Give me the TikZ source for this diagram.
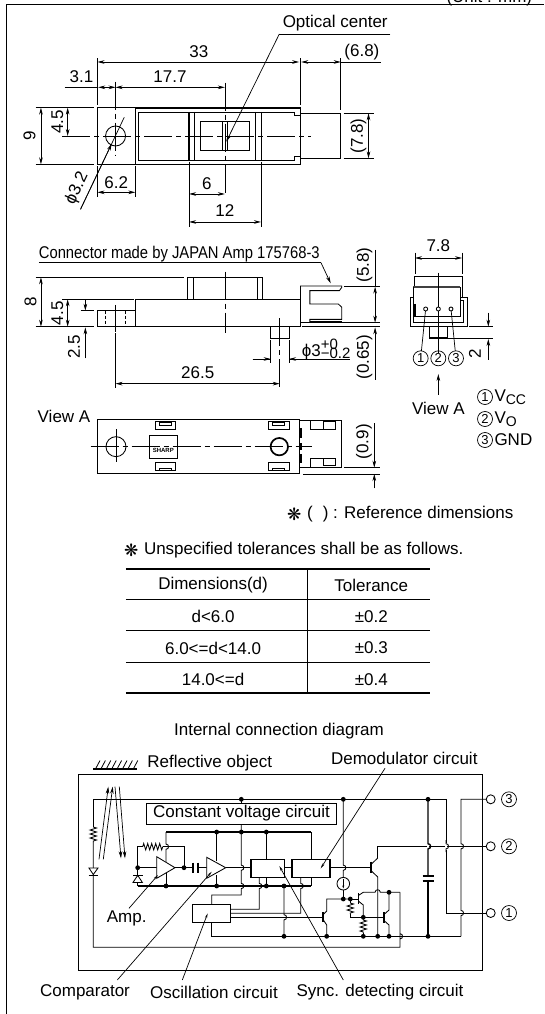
\documentclass[tikz,border=0pt]{standalone}
\usepackage{fontspec}
\setmainfont{Liberation Sans}
\newfontfamily\djvf{DejaVu Sans}
\usetikzlibrary{arrows.meta,decorations.pathmorphing}
\newcommand\fsm{\fontsize{17}{19}\selectfont}
\newcommand\fsl{\fontsize{15}{16}\selectfont}
\newcommand\fss{\fontsize{13}{14}\selectfont}
\newcommand\astx{{\djvf\fontsize{17}{17}\selectfont ❋}}
\newcommand\hv[2]{-- ({#1},{#2-2.6}) .. controls ({#1+3.4},{#2-2.6}) and ({#1+3.4},{#2+2.6}) .. ({#1},{#2+2.6})}
\newcommand\hh[2]{-- ({#1-2.6},{#2}) .. controls ({#1-2.6},{#2-3.4}) and ({#1+2.6},{#2-3.4}) .. ({#1+2.6},{#2})}
\newcommand\dt[2]{\fill (#1,#2) circle[radius=2.4pt];}
\tikzset{
  every node/.style={font=\fsm,inner sep=0pt,outer sep=0pt,text=black},
  ln/.style={line width=.85pt,black},
  thk/.style={line width=1.5pt,black},
  cl/.style={line width=.7pt,dash pattern=on 28pt off 4pt on 5pt off 4pt},
  dim/.style={line width=.7pt,{Stealth[length=7pt,width=3.6pt]}-{Stealth[length=7pt,width=3.6pt]}},
  arr/.style={line width=.7pt,-{Stealth[length=7pt,width=3.6pt]}},
  thin1/.style={line width=.7pt},
  lead/.style={line width=.7pt,-{Stealth[length=5pt,width=2.2pt]}},
  rst/.style={line width=.85pt,decorate,decoration={zigzag,segment length=4pt,amplitude=3.2pt}},
  cnum/.style={circle,draw,line width=.7pt,minimum size=15pt,font=\fss},
  pin/.style={circle,draw,line width=.85pt,fill=white,minimum size=9pt},
  tr/.style={line width=.85pt},
  trb/.style={line width=1.6pt},
}
\begin{document}
\begin{tikzpicture}[x=1pt,y=-1pt,line join=miter]
\useasboundingbox (0,0) rectangle (544,1014);
\fill[white] (0,0) rectangle (544,1014);
% frame
\draw[line width=1pt] (6.5,1014) -- (6.5,4.6) -- (544,4.6);
\node[anchor=base west] (unit) at (446.5,2.6) {(Unit : mm)};

% ---------- top view (zoom units)
\begin{scope}[x=.347pt,y=-.3333pt]
\draw[ln] (281,323) rectangle (866,493);
\draw[ln] (390,323) -- (390,493);
\draw[thk] (390,324) -- (866,324);
\draw[ln] (848,347) -- (848,336) -- (400,336) -- (400,482) -- (848,482) -- (848,470) -- (866,470);
\draw[ln] (848,347) -- (866,347);
\draw[ln] (866,340) -- (982,340) -- (982,475) -- (866,475);
\draw[thk] (545,336) -- (545,482) (560,336) -- (560,482) (737,336) -- (737,482) (753,336) -- (753,482);
\draw[ln] (577,364) rectangle (720,452);
\draw[ln] (642,364) -- (642,452) (655,364) -- (655,452);
\draw[ln] (333,408) circle[radius=10pt];
\draw[cl] (180,408) -- (895,408);
\draw[cl] (333,245) -- (333,468);
\draw[cl] (648,248) -- (648,590);
% extension lines
\draw[thin1] (281,175) -- (281,316) (281,498) -- (281,592) (390,498) -- (390,592)
  (866,175) -- (866,316) (982,175) -- (982,330)
  (103,323) -- (272,323) (103,493) -- (272,493)
  (990,340) -- (1078,340) (990,475) -- (1078,475)
  (545,485) -- (545,680) (752,485) -- (752,680)
  (982,186) -- (1098,186) (186,262) -- (281,262);
\draw[dim] (281,186) -- (862,186);
\draw[dim] (868,186) -- (982,186);
\draw[dim] (283,262) -- (333,262);
\draw[dim] (333,262) -- (648,262);
\draw[dim] (118,323) -- (118,493);
\draw[dim] (195,323) -- (195,408);
\draw[dim] (281,577) -- (390,577);
\draw[dim] (545,582) -- (648,582);
\draw[dim] (545,666) -- (752,666);
\draw[dim] (1062,340) -- (1062,475);
\draw[thin1] (232,628) -- (358,352);
\draw[arr] (232,628) -- (322,431);
\draw[thin1] (1125,102) -- (805,102);
\draw[arr] (805,102) -- (652,425);
\node (oc) at (966,70) {Optical center};
\node (t33) at (573,155) {33};
\node (t68) at (1043,155) {(6.8)};
\node (t31) at (235,230) {3.1};
\node (t177) at (490,230) {17.7};
\node[rotate=90] (t9) at (85,408) {9};
\node[rotate=90] (t45) at (165,365) {4.5};
\node[rotate=90] (t78) at (1033,408) {(7.8)};
\node (t62) at (335,547) {6.2};
\node (t6) at (596,550) {6};
\node (t12) at (648,633) {12};
\node[rotate=65] (t32) at (222,565) {ϕ3.2};
\end{scope}

% ---------- side view (zoom units)
\begin{scope}[yshift=-230pt,x=.347pt,y=-.3333pt]
\draw[ln] (390,290) -- (390,208) -- (866,208) -- (866,290);
\draw[thk] (281,290) -- (866,290);
\draw[ln] (541,208) -- (541,142) -- (755,142) -- (755,208);
\draw[ln] (557,142) -- (557,208) (741,142) -- (741,208);
\draw[ln] (281,290) -- (281,242) -- (390,242);
\draw[ln,densely dashed] (305,242) -- (305,290) (362,242) -- (362,290);
\draw[cl] (333,225) -- (333,305);
\draw[cl] (648,125) -- (648,308);
% connector
\draw[ln] (866,208) -- (866,168) -- (985,168) -- (985,172) -- (978,182) -- (893,182) -- (893,222) -- (975,222) -- (985,232) -- (985,268) -- (893,268) -- (893,278);
\draw[ln] (893,275) -- (985,275) -- (985,278) -- (866,278);
% bolt
\draw[ln] (780,290) -- (780,326) (833,290) -- (833,326);
\draw[thk] (780,325) -- (833,325);
\draw[cl] (806,265) -- (806,470);
% extension
\draw[thin1] (992,170) -- (1095,170) (870,278) -- (1095,278) (870,290) -- (1095,290)
  (103,142) -- (530,142) (103,290) -- (272,290) (180,208) -- (385,208) (232,242) -- (272,242)
  (780,330) -- (780,400) (833,330) -- (833,400) (333,310) -- (333,475);
\draw[thin1] (728,387) -- (780,387) (833,387) -- (1010,387);
\draw[arr] (728,387) -- (780,387);
\draw[arr] (885,387) -- (833,387);
\draw[dim] (118,142) -- (118,290);
\draw[dim] (195,208) -- (195,290);
\draw[arr] (246,208) -- (246,242);
\draw[arr] (246,385) -- (246,292);
\draw[dim] (333,461) -- (806,461);
\draw[dim] (1081,170) -- (1081,278);
\draw[arr] (1081,450) -- (1081,292);
\draw[thin1] (1081,60) -- (1081,170);
\draw[thin1] (112,98) -- (925,98);
\draw[arr] (925,98) -- (953,160);
\node[anchor=west] (conn) at (112,72) {\scalebox{.87}[1]{Connector made by JAPAN Amp 175768-3}};
\node[rotate=90] (s58) at (1050,105) {(5.8)};
\node[rotate=90] (s065) at (1050,382) {(0.65)};
\node[rotate=90] (s8) at (88,215) {8};
\node[rotate=90] (s45) at (165,250) {4.5};
\node[rotate=90] (s25) at (213,350) {2.5};
\node (s265) at (570,428) {26.5};
\node[anchor=west] (sphi) at (870,358) {ϕ3\rlap{\raisebox{7pt}{\fsl +0}}\raisebox{-2pt}{\fsl −0.2}};
\end{scope}

% ---------- right view (true zoom units)
\begin{scope}[xshift=385pt,yshift=-230pt,x=.3333pt,y=-.3333pt]
\draw[ln] (88,170) -- (88,138) -- (232,138) -- (232,202);
\draw[line width=2pt,black!75] (84,172) -- (226,172);
\draw[ln] (84,172) -- (84,202) -- (76,202) -- (76,290) -- (246,290) -- (246,202) -- (226,202) -- (226,172);
\draw[thk] (90,222) -- (90,260);
\draw[ln] (84,202) -- (84,278) -- (236,278) -- (236,210) -- (226,210);
\draw[ln] (90,260) -- (226,260) -- (226,205);
\draw[ln] (132,290) -- (132,323) (188,290) -- (188,323);
\draw[thk] (132,324) -- (188,324);
\draw[thin1] (90,68) -- (90,132) (231,68) -- (231,132);
\draw[dim] (90,84) -- (231,84);
\node (r78) at (160,47) {7.8};
\draw[thin1] (160,128) -- (160,368);
\node[pin,minimum size=4pt,draw,fill=white] (p1) at (122,237) {};
\node[pin,minimum size=4pt,draw,fill=white] (p2) at (160,237) {};
\node[pin,minimum size=4pt,draw,fill=white] (p3) at (198,237) {};
\node[cnum] (c1) at (107,385) {1};
\node[cnum] (c2) at (160,385) {2};
\node[cnum] (c3) at (213,385) {3};
\draw[thin1] (p1) -- (c1) (p3) -- (c3);
\coordinate (va) at (160,495);
\draw[arr] (va) -- (160,432);
\node (viewa) at (160,535) {View A};
\draw[thin1] (252,290) -- (325,290) (190,325) -- (325,325);
\draw[arr] (310,248) -- (310,290);
\draw[arr] (310,390) -- (310,327);
\node[rotate=90] (r2) at (270,372) {2};
\end{scope}
\node[cnum] (l1) at (485,397) {1};
\node[anchor=west] (lv1) at (494.5,397) {V\raisebox{-3pt}{\fontsize{14}{14}\selectfont CC}};
\node[cnum] (l2) at (485,419) {2};
\node[anchor=west] (lv2) at (494.5,419) {V\raisebox{-3pt}{\fontsize{14}{14}\selectfont O}};
\node[cnum] (l3) at (485,440) {3};
\node[anchor=west] (lv3) at (494.5,440) {GND};

% ---------- view A (true zoom units)
\begin{scope}[xshift=20pt,yshift=-405pt,x=.3333pt,y=-.3333pt]
\draw[line width=1pt] (234,42) rectangle (840,207);
\draw[ln] (840,45) -- (965,45) -- (965,188) -- (840,188);
\draw[ln] (872,45) -- (872,73) -- (947,73) -- (947,50) -- (910,50);
\draw[ln] (910,45) -- (910,73);
\draw[ln] (872,188) -- (872,160) -- (947,160) -- (947,182) -- (910,182);
\draw[ln] (910,160) -- (910,182);
\draw[thk] (843,70) -- (843,100) (843,115) -- (843,135) (843,148) -- (843,175);
\foreach \xa in {405,745}{
  \draw[ln] (\xa,50) rectangle ++(62,24);
  \draw[ln] (\xa+13,53) rectangle ++(36,7);
  \draw[ln] (\xa,173) rectangle ++(62,24);
  \draw[ln] (\xa+13,190) rectangle ++(36,7);
}
\draw[ln] (288,125) circle[radius=10pt];
\draw[line width=1.7pt] (778,125) circle[radius=8.7pt];
\draw[ln] (288,72) -- (288,170);
\draw[ln] (388,90) rectangle (472,160);
\draw[cl] (212,125) -- (875,125);
\node[font=\bfseries\fontsize{6}{6}\selectfont] (sharp) at (430,135) {SHARP};
\node (va2) at (132,33) {View A};
\draw[thin1] (972,188) -- (1080,188) (850,207) -- (1080,207);
\draw[arr] (1063,54) -- (1063,188);
\draw[arr] (1063,250) -- (1063,207);
\node[rotate=90] (t09) at (1032,110) {(0.9)};
\end{scope}

% ---------- notes and table (zoom units)
\begin{scope}[yshift=-490pt,x=.347pt,y=-.3333pt]
\node (s1) at (848,73) {\astx};
\node[anchor=west] (n1) at (885,73) {(\hspace{10pt}) : Reference dimensions};
\node (s2) at (378,180) {\astx};
\node[anchor=west] (n2) at (415,180) {Unspecified tolerances shall be as follows.};
\draw[line width=2.2pt] (363,236) -- (1238,236) (363,608) -- (1238,608);
\draw[ln] (363,328) -- (1238,328) (363,422) -- (1238,422) (363,516) -- (1238,516);
\draw[ln] (886,236) -- (886,608);
\node (a1) at (614,286) {Dimensions(d)};
\node (b1) at (1070,286) {Tolerance};
\node (a2) at (614,380) {d<6.0};
\node (b2) at (1070,380) {±0.2};
\node (a3) at (614,474) {6.0<=d<14.0};
\node (b3) at (1070,474) {±0.3};
\node (a4) at (614,568) {14.0<=d};
\node (b4) at (1070,568) {±0.4};
\end{scope}
\node (icd) at (279,731) {Internal connection diagram};

% ---------- circuit
\draw[line width=1pt] (78.3,774) rectangle (482.3,970.3);
% reflective object
\draw[line width=1.6pt] (93.3,769) -- (137.3,769);
\foreach \q in {0,...,7}{\draw[line width=.8pt] (96+5.4*\q,768) -- (100+5.4*\q,760.5);}
\node[anchor=west] (ref) at (147.3,763.3) {Reflective object};
% arrows light
\draw[arr] (99,859.3) -- (108.3,786.7);
\draw[arr] (103.3,859.3) -- (112.7,786.7);
\draw[arr] (115,786.7) -- (121,858.3);
\draw[arr] (119.3,786.7) -- (125,858.3);
% top rail, LED, bottom line
\draw[ln] (446,913) -- (446,799.3) -- (93.3,799.3) -- (93.3,827);
\draw[rst] (93.3,827) -- (93.3,842);
\draw[ln] (93.3,842) -- (93.3,947.3) -- (400,947.3) \hv{400}{936.3} -- (400,892.3);
\draw[ln,fill=white] (89,868) -- (98,868) -- (93.3,874.5) -- cycle;
\draw[ln] (88.6,875.7) -- (98,875.7);
% const voltage
\draw[ln,fill=white] (146,803.3) rectangle (336.7,824.3);
\node (cv) at (241.5,813.5) {Constant voltage circuit};
\draw[ln] (241.3,799.3) -- (241.3,803.3);
\draw[thk] (166,832) -- (311,832);
\draw[thk] (137.7,886) -- (311,886) ;
\draw[ln] (241.3,824.3) -- (241.3,832) \hv{241.3}{867.7} \hv{241.3}{886} -- (241.3,895) -- (211.7,895) -- (211.7,904.3);
% amps
\draw[ln] (166,832) \hv{166}{846.7} -- (166,862);
\draw[ln] (166,872) -- (166,886);
\draw[ln] (216.7,832) -- (216.7,861);
\draw[ln] (216.7,875) -- (216.7,886);
\draw[ln] (137.7,886) -- (137.7,846.7) -- (142.7,846.7);
\draw[rst] (142.7,846.7) -- (162.7,846.7);
\draw[ln] (162.7,846.7) -- (184,846.7) -- (184,867.7);
\draw[ln] (137.7,867.7) -- (156.7,867.7);
\draw[ln] (175,867.7) -- (193,867.7);
\draw[line width=1.8pt] (193,862.5) -- (193,873) (198,862.5) -- (198,873);
\draw[ln] (198,867.7) -- (206.7,867.7);
\draw[ln,fill=white] (156.7,856.7) -- (175,867.7) -- (156.7,878.3) -- cycle;
\draw[ln,fill=white] (206.7,857.3) -- (225.7,867.7) -- (206.7,878.3) -- cycle;
\draw[ln] (225.7,867.7) -- (251,867.7);
% photodiode
\draw[ln,fill=white] (137.7,875.3) -- (142.4,882.5) -- (133,882.5) -- cycle;
\draw[ln] (133,875) -- (142.7,875);
% boxes
\draw[ln] (284.3,867.7) -- (292,867.7);
\draw[thk] (251,859.3) rectangle (284.3,877.3);
\draw[thk] (292,859.3) rectangle (330,877.3);
\draw[ln] (266.3,832) -- (266.3,859.3) (266.3,877.3) -- (266.3,886);
\draw[ln] (311,832) -- (311,859.3) (311,877.3) -- (311,886);
\draw[ln] (259.3,877.3) \hv{259.3}{886} -- (259.3,909.3) -- (230.7,909.3);
\draw[ln] (300.7,877.3) \hv{300.7}{886} -- (300.7,913.3) -- (230.7,913.3);
\draw[thk] (192.7,904.3) rectangle (230.7,922.7);
\draw[ln] (230.7,917.3) -- (321.7,917.3);
\draw[ln] (211.7,922.7) -- (211.7,936.3) -- (461,936.3);
\draw[ln] (284,886) \hv{284}{917.3} -- (284,936.3);
% right side
\draw[ln] (330,867.7) -- (370.7,867.7);
\draw[ln] (343.3,799.3) \hv{343.3}{867.7} -- (343.3,877.4);
\draw[ln] (343.3,890) -- (343.3,899);
\node[circle,draw,line width=.85pt,fill=white,minimum size=12.6pt] (cs) at (343.3,883.7) {};
\draw[line width=.6pt,-{Stealth[length=3pt,width=2pt]}] (343.3,879) -- (343.3,888.5);
\node[pin] (pn3) at (490.7,799.3) {};
\node[pin] (pn2) at (490.7,846.3) {};
\node[pin] (pn1) at (490.7,913) {};
\node[cnum] (q3) at (509,799.3) {3};
\node[cnum] (q2) at (509,846.3) {2};
\node[cnum] (q1) at (509,913) {1};
\draw[ln] (486.2,799.3) -- (461,799.3) \hv{461}{846.3} \hv{461}{913} -- (461,936.3);
\draw[ln] (486.2,846.3) -- (377.7,846.3) -- (377.7,858);
\draw[ln] (446,913) -- (486.2,913);
% hops of pin 2 over the verticals: redraw
\draw[white,line width=2pt] (428,843) -- (428,850) (446,843) -- (446,850);
\draw[ln] (446,840) \hv{446}{846.3} -- (446,852);
% cap
\draw[line width=1.4pt] (428,799.3) \hv{428}{846.3} -- (428,876);
\draw[line width=1.4pt] (428,880.7) -- (428,936.3);
\draw[line width=2pt] (422.7,876) -- (434,876) (422.7,880.7) -- (434,880.7);
% T2
\draw[trb] (371,861.7) -- (371,873.3);
\draw[tr] (371,864.5) -- (377.7,858);
\draw[tr] (371,870.5) -- (377.7,877) -- (377.7,936.3);
% T1
\draw[trb] (322.7,912) -- (322.7,922);
\draw[tr] (322.7,915) -- (326.7,911) -- (326.7,899) -- (350.3,899);
\draw[tr] (322.7,919) -- (326.7,925) -- (326.7,936.3);
% T3
\draw[trb] (358.3,893) -- (358.3,904);
\draw[tr] (350.3,899) -- (358.3,899);
\draw[tr] (358.3,895.5) -- (363.3,892.3) \hh{377.7}{892.3} -- (400,892.3);
\draw[tr] (358.3,901) -- (363.3,905) -- (363.3,920);
\draw[rst] (363.3,920) -- (363.3,933);
\draw[tr] (363.3,933) -- (363.3,936.3);
\draw[tr] (350.3,899) -- (350.3,903);
\draw[rst] (350.3,903) -- (350.3,914);
\draw[tr] (350.3,914) -- (350.3,917.3) -- (384,917.3);
% T4
\draw[trb] (384,912) -- (384,923);
\draw[tr] (384,914.5) -- (389,910) -- (389,892.3);
\draw[tr] (384,920.5) -- (389,925) -- (389,936.3);
% dots
\dt{241.3}{799.3}\dt{343.3}{799.3}\dt{428}{799.3}
\dt{216.7}{832}\dt{241.3}{832}\dt{266.3}{832}
\dt{137.7}{867.7}\dt{184}{867.7}
\dt{166}{886}\dt{216.7}{886}\dt{266.3}{886}\dt{284}{886}
\dt{343.3}{899}\dt{350.3}{899}\dt{389}{892.3}\dt{363.3}{917.3}
\dt{284}{936.3}\dt{326.7}{936.3}\dt{363.3}{936.3}\dt{377.7}{936.3}\dt{389}{936.3}\dt{428}{936.3}
% leaders
\coordinate (la) at (129,908.3);
\draw[lead] (la) -- (158,875);
\draw[lead] (117.3,980) -- (211.7,871.7);
\draw[lead] (182.3,980) -- (207.7,913.3);
\draw[lead] (343.3,980) -- (279.3,866);
\draw[lead] (385,768.3) -- (320.7,868.3);
\node (amp) at (126.7,918.5) {Amp.};
\node (comp) at (85,992.3) {Comparator};
\node (osc) at (214,992.3) {Oscillation circuit};
\node (sync) at (380,992.3) {Sync. detecting circuit};
\node (demod) at (404.3,758.3) {Demodulator circuit};
\end{tikzpicture}
\end{document}
